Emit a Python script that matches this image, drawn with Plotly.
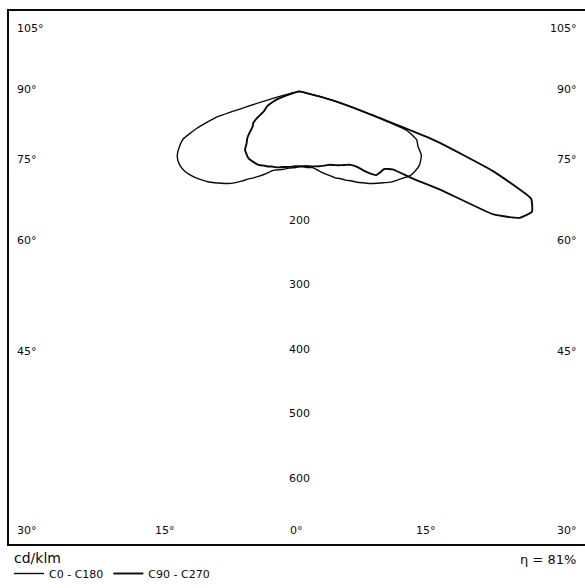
import numpy as np
import plotly.graph_objects as go

# ---------------- data ----------------
# gamma angle measured from nadir (0 deg = straight down), degrees
GAMMA = [0, 2.5, 5, 7.5, 10, 12.5, 15, 17.5, 20, 22.5, 25, 27.5, 30, 32.5, 35, 37.5,
         40, 42.5, 45, 47.5, 50, 52.5, 55, 57.5, 60, 62.5, 65, 67.5, 70, 72.5, 75, 77.5, 80]

# luminous intensity, cd/klm
C0_C180_LEFT = [117, 118, 119, 120, 122, 124, 126, 128, 133, 139, 145, 151, 157, 165, 173, 180,
                186, 192, 198, 203, 208, 212, 215, 216, 215, 211, 203, 193, 167, 133, 43, 5, 0]
C0_C180_RIGHT = [117, 117, 118, 119, 120, 124, 129, 134, 139, 145, 149, 155, 160, 167, 173, 180,
                 186, 192, 199, 204, 209, 215, 217, 218, 216, 212, 202, 196, 176, 104, 55, 12, 0]
C90_C270_LEFT = [116, 116, 117, 118, 119, 120, 122, 123, 124, 126, 127, 129, 130, 130, 130, 129,
                 126, 123, 114, 108, 99, 90, 86, 76, 63, 58, 54, 45, 36, 20, 8, 0, 0]
C90_C270_RIGHT = [116, 116, 116, 117, 118, 119, 120, 121, 122, 123, 126, 129, 132, 135, 139, 148,
                  164, 176, 177, 178, 188, 224, 266, 355, 392, 404, 394, 323, 223, 104, 55, 12, 0]

SERIES_NAMES = ["C0 - C180", "C90 - C270"]
RADIAL_TICKS = [200, 300, 400, 500, 600]
SIDE_LABELS = ["105°", "90°", "75°", "60°", "45°", "30°"]
BOTTOM_LABELS = ["15°", "0°", "15°"]
UNIT_TEXT = "cd/klm"
EFF_TEXT = "η = 81%"

# ---------------- layout geometry (pixels of the 585x588 page) ----------------
W, H = 585, 588
PLOT_L, PLOT_R, PLOT_T, PLOT_B = 9, 585, 11, 548
CX, CY = 299, 92          # pixel position of the diagram origin
PX_PER_UNIT = 0.65        # pixels per cd/klm

x_range = [(PLOT_L - CX) / PX_PER_UNIT, (PLOT_R - CX) / PX_PER_UNIT]
y_range = [-(PLOT_B - CY) / PX_PER_UNIT, (CY - PLOT_T) / PX_PER_UNIT]

def px_to_paper(px, py):
    return ((px - PLOT_L) / (PLOT_R - PLOT_L), (PLOT_B - py) / (PLOT_B - PLOT_T))

def polar_to_xy(left, right):
    g = np.radians(GAMMA)
    l = np.asarray(left, dtype=float)
    r = np.asarray(right, dtype=float)
    x = np.concatenate([-l * np.sin(g), (r * np.sin(g))[::-1]])
    y = np.concatenate([-l * np.cos(g), (-r * np.cos(g))[::-1]])
    return x, y

FONT = "DejaVu Sans"
INK = "#0a0a0a"

fig = go.Figure()
x0, y0 = polar_to_xy(C0_C180_LEFT, C0_C180_RIGHT)
x1, y1 = polar_to_xy(C90_C270_LEFT, C90_C270_RIGHT)
fig.add_trace(go.Scatter(x=x0, y=y0, mode="lines", name=SERIES_NAMES[0],
                         line=dict(color=INK, width=1.4, shape="spline", smoothing=0.4),
                         hoverinfo="skip"))
fig.add_trace(go.Scatter(x=x1, y=y1, mode="lines", name=SERIES_NAMES[1],
                         line=dict(color=INK, width=1.9, shape="spline", smoothing=0.4),
                         hoverinfo="skip"))

LBL = dict(family=FONT, size=11, color=INK)
ann = []
# radial scale labels along the 0 deg axis
for r in RADIAL_TICKS:
    ann.append(dict(x=0, y=-r, xref="x", yref="y", text=str(r), showarrow=False,
                    xanchor="center", yanchor="middle", font=LBL))

side_y = [29, 90, 161, 242, 354, 534]
for lab, py in zip(SIDE_LABELS, side_y):
    xl, yl = px_to_paper(15, py)
    ann.append(dict(x=xl, y=yl, xref="paper", yref="paper", text=lab, showarrow=False,
                    xanchor="left", yanchor="middle", font=LBL))
    xr, yr = px_to_paper(579, py)
    ann.append(dict(x=xr, y=yr, xref="paper", yref="paper", text=lab, showarrow=False,
                    xanchor="right", yanchor="middle", font=LBL))

for lab, px in zip(BOTTOM_LABELS, [165, 296, 426]):
    xb, yb = px_to_paper(px, 534)
    ann.append(dict(x=xb, y=yb, xref="paper", yref="paper", text=lab, showarrow=False,
                    xanchor="center", yanchor="middle", font=LBL))

xu, yu = px_to_paper(12, 562)
ann.append(dict(x=xu, y=yu, xref="paper", yref="paper", text=UNIT_TEXT, showarrow=False,
                xanchor="left", yanchor="middle", font=dict(family=FONT, size=14, color=INK)))
xe, ye = px_to_paper(578, 564)
ann.append(dict(x=xe, y=ye, xref="paper", yref="paper", text=EFF_TEXT, showarrow=False,
                xanchor="right", yanchor="middle", font=dict(family=FONT, size=13, color=INK)))

_, leg_y = px_to_paper(0, 578)

fig.update_layout(
    width=W, height=H,
    margin=dict(l=PLOT_L, r=W - PLOT_R, t=PLOT_T, b=H - PLOT_B, pad=0),
    paper_bgcolor="white", plot_bgcolor="white",
    xaxis=dict(range=x_range, showgrid=False, zeroline=False, showticklabels=False,
               ticks="", showline=True, mirror=True, linecolor=INK, linewidth=1.5,
               fixedrange=True),
    yaxis=dict(range=y_range, showgrid=False, zeroline=False, showticklabels=False,
               ticks="", showline=True, mirror=False, linecolor=INK, linewidth=1.5,
               fixedrange=True),
    showlegend=True,
    legend=dict(orientation="h", x=0, xanchor="left", y=leg_y, yanchor="middle",
                font=dict(family=FONT, size=11, color=INK), bgcolor="rgba(0,0,0,0)",
                itemwidth=30, tracegroupgap=0),
    annotations=ann,
)

fig.write_html("out.html", config={"displayModeBar": False},
               post_script="document.body.style.margin='0';document.body.style.overflow='hidden';")
